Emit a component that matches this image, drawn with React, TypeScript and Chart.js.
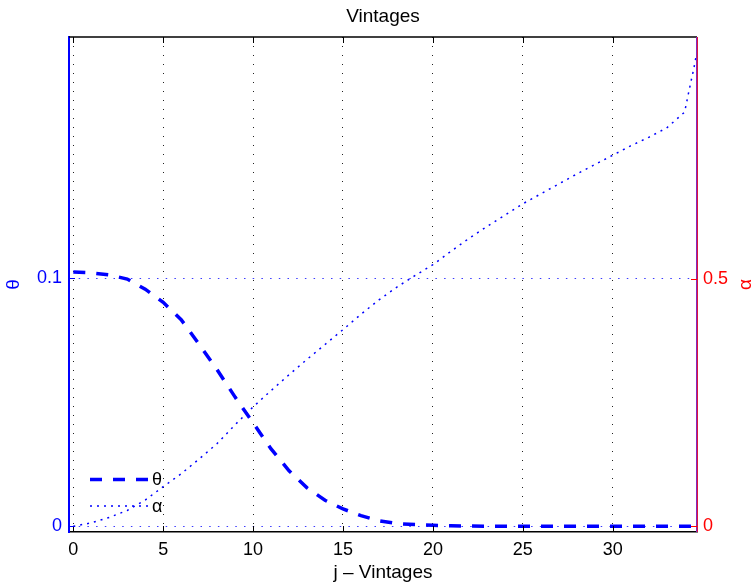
import React, { useEffect, useRef } from "react";
import { Chart, registerables } from "chart.js";

Chart.register(...registerables);

// ---- data ----
const jValues = [
  0, 1, 2, 3, 4, 5, 6, 7, 8, 9, 10, 11, 12, 13, 14, 15, 16, 17, 18, 19, 20,
  21, 22, 23, 24, 25, 26, 27, 28, 29, 30, 31, 32, 33, 34, 34.25, 34.5, 34.69,
];
const thetaValues = [
  0.1025, 0.1022, 0.1014, 0.0997, 0.0956, 0.0903, 0.0833, 0.0734, 0.0631,
  0.0521, 0.0417, 0.0312, 0.0224, 0.0155, 0.0105, 0.007, 0.0043, 0.0022,
  0.0011, 0.0007, 0.0004, 0.0002, 0.0001, 0, 0, 0, 0, 0, 0, 0, 0, 0, 0, 0, 0,
  0, 0, 0,
];
const alphaValues = [
  0, 0.007, 0.018, 0.032, 0.053, 0.08, 0.106, 0.136, 0.167, 0.205, 0.241,
  0.274, 0.306, 0.337, 0.367, 0.397, 0.428, 0.457, 0.483, 0.506, 0.528, 0.555,
  0.581, 0.605, 0.628, 0.651, 0.671, 0.691, 0.711, 0.73, 0.749, 0.768, 0.785,
  0.804, 0.836, 0.88, 0.922, 0.958,
];
const xTickValues = [0, 5, 10, 15, 20, 25, 30];
const thetaTickValues = [0, 0.1];
const alphaTickValues = [0, 0.5];

const titleText = "Vintages";
const xTitleText = "j – Vintages";
const thetaLabel = "θ";
const alphaLabel = "α";

const FONT = '"Liberation Sans", Arial, Helvetica, sans-serif';
const BLUE = "#0000ff";
const RED = "#ff0000";

const framePlugin = {
  id: "frameDecor",
  afterDraw(chart: any) {
    const { ctx, chartArea: a, scales } = chart;
    const xs = scales.x;
    const yl = scales.y;
    const yr = scales.y2;
    ctx.save();

    // top border
    ctx.strokeStyle = "#000";
    ctx.lineWidth = 1.5;
    ctx.beginPath();
    ctx.moveTo(a.left, a.top);
    ctx.lineTo(a.right, a.top);
    ctx.stroke();

    // inward x ticks (bottom and top)
    ctx.lineWidth = 1;
    ctx.beginPath();
    for (const v of xTickValues) {
      const px = Math.round(xs.getPixelForValue(v)) + 0.5;
      ctx.moveTo(px, a.bottom);
      ctx.lineTo(px, a.bottom - 6);
      ctx.moveTo(px, a.top);
      ctx.lineTo(px, a.top + 6);
    }
    ctx.stroke();

    // left inward ticks (blue)
    ctx.strokeStyle = BLUE;
    ctx.beginPath();
    for (const v of thetaTickValues) {
      const py = Math.round(yl.getPixelForValue(v)) + 0.5;
      ctx.moveTo(a.left, py);
      ctx.lineTo(a.left + 6, py);
    }
    ctx.stroke();

    // right axis line (blue + red overlap) and red inward ticks
    ctx.strokeStyle = "rgb(130,40,190)";
    ctx.lineWidth = 1;
    ctx.beginPath();
    ctx.moveTo(a.right - 0.5, a.top);
    ctx.lineTo(a.right - 0.5, a.bottom);
    ctx.stroke();
    ctx.strokeStyle = "rgb(220,20,60)";
    ctx.beginPath();
    ctx.moveTo(a.right + 0.5, a.top);
    ctx.lineTo(a.right + 0.5, a.bottom);
    ctx.stroke();
    ctx.strokeStyle = RED;
    ctx.beginPath();
    for (const v of alphaTickValues) {
      const py = Math.round(yr.getPixelForValue(v)) + 0.5;
      ctx.moveTo(a.right, py);
      ctx.lineTo(a.right - 6, py);
    }
    ctx.stroke();

    // legend inside the plot (lower left)
    const ds = chart.data.datasets;
    const rows = [a.bottom - 52.5, a.bottom - 26];
    ds.forEach((d: any, i: number) => {
      ctx.save();
      ctx.strokeStyle = d.borderColor;
      ctx.lineWidth = d.borderWidth;
      ctx.setLineDash(d.borderDash || []);
      ctx.beginPath();
      ctx.moveTo(a.left + 21, rows[i]);
      ctx.lineTo(a.left + 79, rows[i]);
      ctx.stroke();
      ctx.restore();
      ctx.fillStyle = "#000";
      ctx.font = `18px ${FONT}`;
      ctx.textAlign = "left";
      ctx.textBaseline = "middle";
      ctx.fillText(d.label, a.left + 83, rows[i] + 1);
    });

    // right axis title (rotated counter-clockwise, as MATLAB does)
    ctx.save();
    ctx.fillStyle = RED;
    ctx.font = `19px ${FONT}`;
    ctx.textAlign = "center";
    ctx.textBaseline = "middle";
    ctx.translate(746, (a.top + a.bottom) / 2);
    ctx.rotate(-Math.PI / 2);
    ctx.fillText(alphaLabel, 0, 0);
    ctx.restore();

    ctx.restore();
  },
};

export default function App() {
  const ref = useRef<HTMLCanvasElement | null>(null);

  useEffect(() => {
    if (!ref.current) return;
    const thetaData = jValues.map((x, i) => ({ x, y: thetaValues[i] }));
    const alphaData = jValues.map((x, i) => ({ x, y: alphaValues[i] }));

    const chart = new Chart(ref.current, {
      type: "line",
      data: {
        datasets: [
          {
            label: thetaLabel,
            data: thetaData,
            yAxisID: "y",
            borderColor: BLUE,
            borderWidth: 3.5,
            borderDash: [12, 11],
            pointRadius: 0,
            tension: 0,
            fill: false,
          },
          {
            label: alphaLabel,
            data: alphaData,
            yAxisID: "y2",
            borderColor: BLUE,
            borderWidth: 1.5,
            borderDash: [2, 5],
            pointRadius: 0,
            tension: 0,
            fill: false,
          },
        ],
      },
      options: {
        responsive: false,
        animation: false,
        devicePixelRatio: 1,
        layout: { padding: 0 },
        plugins: {
          legend: { display: false },
          tooltip: { enabled: false },
          title: {
            display: true,
            text: titleText,
            fullSize: false,
            color: "#000",
            font: { family: FONT, size: 19, weight: "normal" },
            padding: { top: 5.4, bottom: 8.8 },
          },
        },
        scales: {
          x: {
            type: "linear",
            position: "bottom",
            min: -0.24,
            max: 34.69,
            afterBuildTicks: (s: any) => {
              s.ticks = xTickValues.map((v) => ({ value: v }));
            },
            afterFit: (s: any) => {
              s.height = 52;
            },
            ticks: {
              color: "#000",
              font: { family: FONT, size: 18 },
              padding: 7,
              maxRotation: 0,
              callback: (v: any) => String(v),
            },
            grid: {
              color: "#222",
              lineWidth: 1,
              drawTicks: false,
            },
            border: { color: "#000", width: 1.5, dash: [1, 8] },
            title: {
              display: true,
              text: xTitleText,
              color: "#000",
              font: { family: FONT, size: 19 },
              padding: { top: 0, bottom: 0 },
            },
          },
          y: {
            type: "linear",
            position: "left",
            min: -0.0023,
            max: 0.1973,
            afterBuildTicks: (s: any) => {
              s.ticks = thetaTickValues.map((v) => ({ value: v }));
            },
            afterFit: (s: any) => {
              s.width = 69;
            },
            ticks: {
              color: BLUE,
              font: { family: FONT, size: 18 },
              padding: 7,
              callback: (v: any) => String(v),
            },
            grid: {
              color: "#3a3aff",
              lineWidth: 1,
              drawTicks: false,
            },
            border: { color: BLUE, width: 2, dash: [1.5, 7.2] },
            title: {
              display: true,
              text: thetaLabel,
              color: BLUE,
              font: { family: FONT, size: 19 },
              padding: { top: 2.5, bottom: 0 },
            },
          },
          y2: {
            type: "linear",
            position: "right",
            min: -0.0115,
            max: 0.9877,
            afterBuildTicks: (s: any) => {
              s.ticks = alphaTickValues.map((v) => ({ value: v }));
            },
            afterFit: (s: any) => {
              s.width = 58;
            },
            ticks: {
              color: RED,
              font: { family: FONT, size: 18 },
              padding: 6,
              callback: (v: any) => String(v),
            },
            grid: { drawOnChartArea: false, drawTicks: false },
            border: { display: false },
          },
        },
      },
      plugins: [framePlugin],
    } as any);

    return () => chart.destroy();
  }, []);

  return (
    <div
      style={{
        position: "absolute",
        left: 0,
        top: 0,
        width: 755,
        height: 584,
        background: "#fff",
      }}
    >
      <canvas
        ref={ref}
        width={755}
        height={584}
        style={{ display: "block", width: 755, height: 584 }}
      />
    </div>
  );
}
